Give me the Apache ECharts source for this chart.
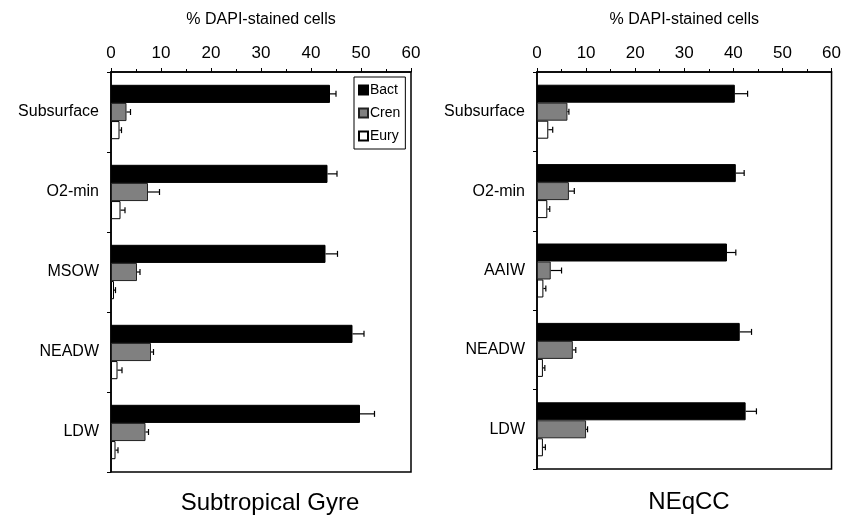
<!DOCTYPE html>
<html>
<head>
<meta charset="utf-8">
<script src="https://cdn.jsdelivr.net/npm/echarts@6/dist/echarts.min.js"></script>
<style>
  html, body { margin: 0; padding: 0; background: #fff; }
  #chart { width: 844px; height: 516px; }
</style>
</head>
<body>
<div id="chart"></div>
<script>
// categories (top to bottom)
var gyreCats = ['Subsurface', 'O2-min', 'MSOW', 'NEADW', 'LDW'];
var neqCats = ['Subsurface', 'O2-min', 'AAIW', 'NEADW', 'LDW'];

// Subtropical Gyre, % DAPI-stained cells
var gyreBact = [43.8, 43.3, 42.9, 48.3, 49.8];
var gyreBactErr = [1.2, 1.9, 2.4, 2.3, 2.9];
var gyreCren = [3.1, 7.4, 5.2, 8.0, 6.9];
var gyreCrenErr = [0.8, 2.3, 0.6, 0.5, 0.6];
var gyreEury = [1.7, 1.9, 0.6, 1.3, 0.9];
var gyreEuryErr = [0.4, 0.9, 0.3, 0.9, 0.5];

// NEqCC
var neqBact = [40.3, 40.5, 38.7, 41.3, 42.5];
var neqBactErr = [2.6, 1.7, 1.8, 2.4, 2.2];
var neqCren = [6.2, 6.5, 2.8, 7.3, 10.0];
var neqCrenErr = [0.3, 1.1, 2.2, 0.6, 0.3];
var neqEury = [2.3, 2.1, 1.3, 1.2, 1.2];
var neqEuryErr = [0.9, 0.5, 0.5, 0.4, 0.5];

var FONT = '"Liberation Sans", Arial, sans-serif';
var CAT_GAP = 0.32;

var styles = {
    Bact: { color: '#000000', borderColor: '#000000', borderWidth: 1 },
    Cren: { color: '#808080', borderColor: '#222222', borderWidth: 1 },
    Eury: { color: '#ffffff', borderColor: '#000000', borderWidth: 1 }
};

function barSeries(name, vals, gi) {
    return {
        name: name,
        type: 'bar',
        xAxisIndex: gi,
        yAxisIndex: gi,
        data: vals,
        barGap: '0%',
        barCategoryGap: (CAT_GAP * 100) + '%',
        itemStyle: styles[name],
        silent: true
    };
}

// error bars: line from bar end to value+err with a small cap
function errSeries(vals, errs, slot, gi) {
    return {
        type: 'custom',
        xAxisIndex: gi,
        yAxisIndex: gi,
        silent: true,
        z: 5,
        data: vals.map(function (v, i) { return [v, i, errs[i]]; }),
        encode: { x: 0, y: 1 },
        renderItem: function (params, api) {
            var start = api.coord([api.value(0), api.value(1)]);
            var end = api.coord([api.value(0) + api.value(2), api.value(1)]);
            var band = api.size([0, 1])[1];
            var barH = band * (1 - CAT_GAP) / 3;
            var y = start[1] - 1.5 * barH + (slot + 0.5) * barH;
            var st = { stroke: '#000', lineWidth: 1.2 };
            return {
                type: 'group',
                children: [
                    { type: 'line', shape: { x1: start[0], y1: y, x2: end[0], y2: y }, style: st },
                    { type: 'line', shape: { x1: end[0], y1: y - 3, x2: end[0], y2: y + 3 }, style: st }
                ]
            };
        }
    };
}

function xAxisOf(gi) {
    return {
        gridIndex: gi,
        type: 'value',
        position: 'top',
        min: 0,
        max: 60,
        interval: 10,
        name: '% DAPI-stained cells',
        nameLocation: 'middle',
        nameGap: 44,
        nameTextStyle: { fontFamily: FONT, fontSize: 16, color: '#000' },
        axisLine: { show: true, lineStyle: { color: '#000', width: 1.5 } },
        axisTick: { show: true, length: 4, lineStyle: { color: '#000' } },
        minorTick: { show: true, splitNumber: 2, length: 3, lineStyle: { color: '#000' } },
        axisLabel: { fontFamily: FONT, fontSize: 17, color: '#000', margin: 10 },
        splitLine: { show: false }
    };
}

function yAxisOf(gi, cats) {
    return {
        gridIndex: gi,
        type: 'category',
        inverse: true,
        data: cats,
        axisLine: { show: true, lineStyle: { color: '#000', width: 1.5 } },
        axisTick: { show: true, length: 4, lineStyle: { color: '#000' } },
        axisLabel: { fontFamily: FONT, fontSize: 16, color: '#000', margin: 12 }
    };
}

var chart = echarts.init(document.getElementById('chart'), null, { renderer: 'canvas' });

var option = {
    backgroundColor: '#fff',
    animation: false,
    title: [
        {
            text: 'Subtropical Gyre', left: 265, top: 486, textAlign: 'center',
            textStyle: { fontFamily: FONT, fontSize: 24, fontWeight: 'normal', color: '#000' }
        },
        {
            text: 'NEqCC', left: 684, top: 485, textAlign: 'center',
            textStyle: { fontFamily: FONT, fontSize: 24, fontWeight: 'normal', color: '#000' }
        }
    ],
    legend: {
        data: ['Bact', 'Cren', 'Eury'],
        orient: 'vertical',
        left: 354,
        top: 77,
        itemWidth: 9,
        itemHeight: 9,
        itemGap: 9,
        icon: 'rect',
        padding: [6, 5, 6, 4],
        borderColor: '#000',
        borderWidth: 1,
        backgroundColor: '#fff',
        selectedMode: false,
        textStyle: { fontFamily: FONT, fontSize: 14, color: '#000', padding: [0, 0, 0, -3] }
    },
    grid: [
        { left: 111, right: 433, top: 72, bottom: 44, show: true, borderColor: '#000', borderWidth: 1.5, backgroundColor: 'transparent' },
        { left: 537, right: 11, top: 72, bottom: 47, show: true, borderColor: '#000', borderWidth: 1.5, backgroundColor: 'transparent' }
    ],
    xAxis: [xAxisOf(0), xAxisOf(1)],
    yAxis: [yAxisOf(0, gyreCats), yAxisOf(1, neqCats)],
    series: [
        barSeries('Bact', gyreBact, 0),
        barSeries('Cren', gyreCren, 0),
        barSeries('Eury', gyreEury, 0),
        barSeries('Bact', neqBact, 1),
        barSeries('Cren', neqCren, 1),
        barSeries('Eury', neqEury, 1),
        errSeries(gyreBact, gyreBactErr, 0, 0),
        errSeries(gyreCren, gyreCrenErr, 1, 0),
        errSeries(gyreEury, gyreEuryErr, 2, 0),
        errSeries(neqBact, neqBactErr, 0, 1),
        errSeries(neqCren, neqCrenErr, 1, 1),
        errSeries(neqEury, neqEuryErr, 2, 1)
    ]
};

chart.setOption(option);
</script>
</body>
</html>
